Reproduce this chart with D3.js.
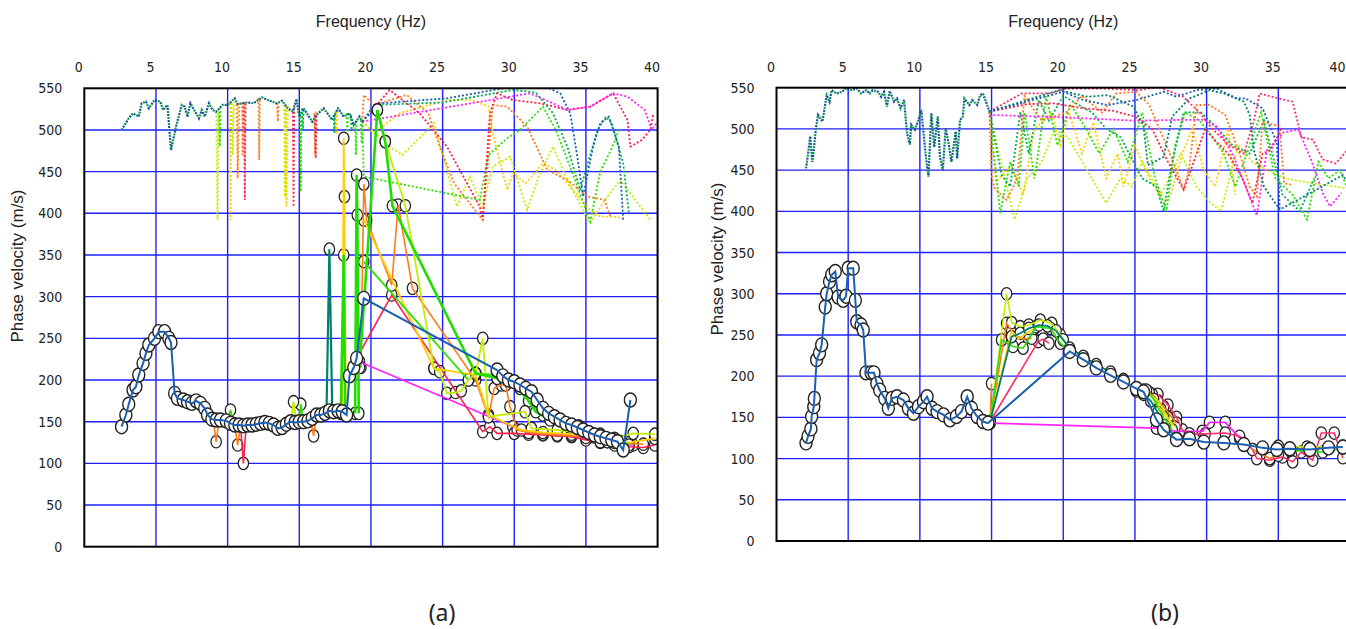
<!DOCTYPE html>
<html>
<head>
<meta charset="utf-8">
<script src="https://cdn.jsdelivr.net/npm/d3@7"></script>
<style>
  body { margin: 0; background: #fff; }
  svg { display: block; }
</style>
</head>
<body>
<svg id="chart" width="1346" height="629"></svg>
<script>
// ---------------- data ----------------
const xTicks = [0, 5, 10, 15, 20, 25, 30, 35, 40];
const yTicks = [0, 50, 100, 150, 200, 250, 300, 350, 400, 450, 500, 550];
const xTitle = "Frequency (Hz)";
const yTitle = "Phase velocity (m/s)";
const captions = ["(a)", "(b)"];

// panel (a) : picked dispersion curves [frequency Hz, phase velocity m/s]
const aMain = [[2.6,144],[2.9,158],[3.1,171],[3.4,188],[3.6,192],[3.8,206],[4.1,220],[4.3,232],[4.5,242],[4.9,250],
  [5.2,258],[5.6,258],[5.9,250],[6.05,245],[6.3,184],[6.5,178],[6.9,176],[7.2,174],[7.5,172],[7.8,175],[8.1,172],
  [8.4,166],[8.6,158],[8.9,153],[9.2,152],[9.5,152],[9.9,151],[10.2,148],[10.5,146],[10.8,146],[11.1,145],[11.4,146],
  [11.7,146],[12.0,147],[12.3,148],[12.6,149],[12.9,148],[13.2,146],[13.5,142],[13.8,143],[14.1,147],[14.4,150],
  [14.7,149],[15.0,150],[15.3,150],[15.6,151],[15.9,154],[16.2,158],[16.5,158],[16.8,160],[17.1,163],[17.4,162],
  [17.7,163],[18.0,162],[18.3,158],[18.5,205],[18.8,215],[19.0,226],[19.5,298],
  [28.8,212],[29.2,205],[29.6,200],[30.0,198],[30.4,194],[30.8,190],[31.2,186],[31.6,176],[32.0,166],[32.4,160],
  [32.8,156],[33.2,152],[33.6,148],[34.0,146],[34.4,143],[34.8,140],[35.2,137],[35.6,134],[36.0,132],[36.4,130],
  [36.8,128],[37.2,126],[37.6,116],[38.1,176]];
const aRed = [[10.9,146],[11.1,100],[11.3,146],null,
  [19.0,226],[21.45,302],[27.8,138],[28.3,144],[28.8,136],[30,136],[31,135],[32,134],[33,133],[34,132],[35,128],
  [36,125],[37,122],[38,120],[39,119],[39.8,122]];
const aOrange = [[9.0,152],[9.2,126],[9.4,152],null,[10.5,146],[10.7,122],[10.9,146],null,[15.8,152],[16.0,133],[16.2,158],null,
  [19.3,215],[19.5,435],[19.7,392],[21.45,314],[21.9,410],[22.9,310],[27.3,200],[28.2,156],[28.6,190],[29.1,194],
  [29.4,194],[29.7,168],[30.2,140],[31,137],[32,135],[33,134],[34,133],[35,131],[36,126],[37,125],[38,124],[39,123]];
const aYellow = [[18.0,160],[18.1,490],[18.15,420],[18.25,160],null,
  [19.5,392],[24.4,214],[27.3,206],[28.2,158],[30.5,140],[32,137],[34,135],[35.5,132],[36.5,126],[38,125],[39.8,130]];
const aYellowGreen = [[14.4,150],[14.6,174],[14.8,150],null,
  [20.45,524],[21.0,486],[22.4,409],[24.4,214],[24.8,210],[25.3,184],[25.9,185],[26.3,187],[26.8,200],[27.3,208],
  [27.8,250],[28.2,156],[30.75,162],[31.2,142],[33,140],[35,136],[37,130],[38.3,136],[39.8,135]];
const aLime = [[18.9,160],[19.0,446],[19.05,398],[19.15,160],null,[17.9,160],[18.1,350],[18.2,160],null,
  [19.2,215],[20.45,524],[21.0,486],[21.5,409],[27.3,208],[28.8,202],[30.4,190],[31.5,162],[32.5,152],[34,142],
  [35.5,135],[37,128],[38,122]];
const aGreen = [[10.0,151],[10.2,164],[10.4,148],null,[15.0,150],[15.1,171],[15.3,150],null,
  [19.5,342],[26.8,200],[27.3,208],[28.8,206],[29.6,200],[31,175],[32,158],[33,152],[34.5,145],[36,135],[37.5,126]];
const aTeal = [[16.9,162],[17.1,357],[17.3,162]];
const aMagenta = [[19.2,222],[29.9,144],[31,137],[33,134],[35,130],[36.5,126],[37.5,122],[38.3,122]];

// panel (a) : spectral maxima (dotted)
const aDotMain = [[2.6,500],[3.1,514],[3.4,520],[3.8,516],[4.0,532],[4.3,534],[4.5,526],[4.9,536],[5.3,534],[5.5,524],
  [5.8,530],[6.05,476],[6.4,504],[6.8,530],[7.0,528],[7.2,516],[7.4,532],[8.0,514],[8.2,524],[8.4,516],[8.7,532],
  [8.95,524],[9.2,522],[9.65,530],[10.0,530],[10.5,538],[10.7,531],[11.35,533],[11.8,532],[12.4,539],[12.8,536],
  [13.4,532],[13.8,535],[14.2,526],[14.55,522],[14.8,537],[15.0,516],[15.3,526],[15.9,510],[16.2,518],[16.7,526],
  [17.3,512],[17.7,526],[18.1,516],[18.5,520],[18.8,506],[19.2,516],[19.4,510]];
const aDotDipYellowGreen = [[9.2,522],[9.3,392],[9.35,522],null,[10.3,532],[10.35,470],[10.45,534],null,[13.95,530],[14.0,420],[14.05,530]];
const aDotDipYellow = [[10.15,532],[10.2,392],[10.25,534],null,[14.05,530],[14.1,408],[14.2,528],null,[17.55,522],[17.6,495],[17.65,524]];
const aDotDipOrange = [[10.65,531],[10.7,442],[10.8,532],null,[12.15,538],[12.2,464],[12.25,538],null,[13.45,532],[13.5,510],[13.55,532],
  null,[11.0,533],[11.05,470],[11.1,533],null,[16.05,520],[16.1,470],[16.15,522]];
const aDotDipRed = [[11.15,533],[11.2,416],[11.25,533],null,[14.55,522],[14.6,408],[14.65,530],null,[16.1,518],[16.15,466],[16.2,520]];
const aDotDipLime = [[9.4,526],[9.45,480],[9.5,526],null,[15.05,520],[15.1,426],[15.15,524],null,[18.3,520],[18.35,490],[18.4,520],
  null,[18.9,508],[18.95,470],[19.0,512],null,[19.3,512],[19.35,484],[19.4,510]];
const aDotDipGreen = [[15.2,526],[15.25,500],[15.3,526],null,[17.4,518],[17.45,496],[17.5,522],null,[18.6,518],[18.65,500],[18.7,516]];
const aDotBlue = [[19.4,510],[20.6,532],[25.3,538],[29.9,552],[32.3,551],[33.2,544],[33.9,520],[34.4,468],[34.8,420],
  [35.5,480],[36.0,508],[36.6,516],[37.3,480],[37.6,392]];
const aDotGreen = [[19.4,510],[20.2,530],[25,533],[29.9,548],[31.5,545],[32.7,520],[33.7,480],[34.6,428],[35.8,500],
  [36.4,516],[36.8,508],[37.6,460],[38.0,400]];
const aDotRed = [[19.4,510],[21.3,548],[23.4,520],[25.3,480],[27.6,408],[27.8,392],[28.3,520],[28.8,544],[29.9,536],
  [31.8,532],[33.7,524],[35.3,528],[36.9,544],[37.9,512],[38.1,480],[38.9,488],[39.5,500],[39.7,520]];
const aDotMagenta = [[19.4,510],[31.1,544],[32.3,535],[33.7,524],[35.3,528],[36.9,544],[37.9,540],[39.1,524],[39.6,500],[40,510]];
const aDotOrange = [[19.4,510],[19.5,542],[20.2,530],[22.5,542],[24.0,520],[24.8,480],[25.8,436],[27.8,392],[28.5,530],
  [29.5,528],[30.9,504],[32.3,452],[33.7,440],[35.1,420],[36.3,416],[36.7,396]];
const aDotYellow = [[19.4,510],[20.2,496],[22,520],[25.3,536],[27,536],[28.2,528],[28.5,496],[29.5,428],[29.9,448],
  [30.8,436],[32.0,460],[32.9,452],[34.1,428],[35.3,404],[36.0,396],[36.9,396],[37.6,394]];
const aDotYellowGreen = [[19.4,510],[21.3,480],[22.2,470],[24.4,508],[26.0,408],[26.9,444],[27.8,408],[28.5,456],
  [29.7,468],[30.9,404],[31.7,444],[32.7,480],[33.7,440],[35.3,388],[36.4,418],[37.4,440],[39.5,392]];
const aDotLime = [[19.4,510],[19.5,444],[27.6,416],[28.2,470],[29.5,490],[30.4,500],[32.0,528],[32.9,500],[33.8,460],
  [35.3,390],[36.0,450],[36.8,478],[37.3,500]];

// panel (b) : picked dispersion curves
const bMain = [[2.06,119],[2.2,127],[2.4,136],[2.45,151],[2.6,163],[2.64,173],[2.8,220],[3.0,228],[3.15,238],[3.4,284],
  [3.5,300],[3.7,315],[3.85,323],[4.1,327],[4.3,296],[4.65,292],[4.85,297],[5.0,331],[5.35,331],[5.5,292],[5.6,266],
  [5.9,262],[6.05,256],[6.24,204],[6.6,204],[6.8,204],[7.0,191],[7.2,183],[7.55,173],[7.8,161],[8.05,173],[8.4,175],
  [8.85,171],[9.2,161],[9.55,155],[9.9,163],[10.25,169],[10.5,175],[10.85,161],[11.2,157],[11.65,153],[12.1,147],
  [12.55,151],[12.9,157],[13.3,175],[13.6,161],[14.0,151],[14.4,145],[14.75,143],
  [20.45,230],[21.4,220],[22.3,210],[23.3,201],[24.2,193],[25.1,185],[25.6,181],[26.5,147],[27.0,135],[27.9,123],
  [28.8,124],[29.8,120],[31.2,119],[32.6,117],[33.9,113],[34.9,111],[35.8,112],[37.2,111],[38.5,113],[39.5,114]];
const bTeal = [[14.9,145],[16.4,248],[17.0,252],[17.6,258],[18.3,262],[18.9,261],[19.5,255],[20.0,244],[20.45,234],
  [21.4,224],[22.3,214],[23.3,205],[24.2,196],[25.1,182],[25.6,178],[26.1,170],[26.6,156],[27.1,140],[27.9,125]];
const bGreen = [[14.9,145],[15.7,244],[16.5,236],[17.2,234],[18.1,260],[19.1,258],[19.8,240],[20.45,230],null,
  [25.8,183],[26.3,172],[27.0,150],[27.6,135],null,[33.9,113],[35.8,110],[38.1,108],[39.5,113]];
const bYellowGreen = [[14.9,145],[16.05,300],[16.4,265],[17.0,260],[17.6,262],[18.4,268],[19.2,264],[19.8,250],[20.45,232],null,
  [25.6,183],[26.6,170],[27.3,150],[27.8,138],null,[35.0,115],[37,114],[39.5,115]];
const bYellow = [[14.9,145],[16.4,255],[16.9,245],[17.4,252],[18.0,258],null,[26.0,180],[26.8,160],[27.6,140]];
const bOrange = [[15.0,191],[14.9,145],[16.05,264],[16.6,250],[17.2,245],[17.8,246],null,[26.2,178],[27.0,163],[27.9,143],
  null,[33.2,111],[34.4,100],[35.0,104]];
const bRed = [[14.9,145],[18.25,242],[18.6,245],[19.0,240],null,[26.6,178],[27.3,165],[27.9,150],[28.3,135],[28.8,130],
  [29.9,130],[31.3,131],[32.3,127],[33.2,111],[33.5,100],[34.4,98],[35.3,102],[36.0,96],[36.6,108],[37.4,98],
  [38.0,131],[38.9,131],[39.5,101]];
const bMagenta = [[14.9,143],[26.5,137],[27.9,133],[29.7,133],[30.2,144],[31.3,144],[32.3,125]];

// panel (b) : spectral maxima (dotted)
const bDotMain = [[2.06,452],[2.2,470],[2.35,491],[2.5,460],[2.6,474],[2.75,501],[2.9,517],[3.2,509],[3.3,519],[3.5,541],
  [3.7,533],[3.85,547],[4.2,543],[4.55,545],[4.85,549],[5.2,547],[5.6,549],[5.9,543],[6.25,547],[6.5,543],[6.7,547],
  [7.1,545],[7.3,539],[7.5,545],[7.7,527],[7.9,546],[8.2,533],[8.4,537],[8.65,525],[8.9,535],[9.1,495],[9.3,481],
  [9.4,505],[9.65,499],[9.9,511],[10.1,523],[10.35,478],[10.5,454],[10.6,442],[10.8,519],[11.0,478],[11.25,515],
  [11.4,466],[11.6,450],[11.8,501],[12.0,483],[12.2,460],[12.5,497],[12.6,464],[12.8,511],[13.0,515],[13.1,537],
  [13.45,529],[13.65,535],[14.0,529],[14.2,541],[14.4,543],[14.65,531],[14.85,521]];
const bDotBlue = [[14.85,521],[20.0,545],[21.4,535],[23.1,529],[25.1,535],[27.0,545],[27.9,539],[29.3,547],[30.7,549],
  [32.1,537],[32.7,537],[33.9,525],[34.9,483],[35.1,402]];
const bDotTeal = [[14.85,521],[19.7,547],[21.7,539],[23.1,541],[24.9,527],[25.6,503],[25.9,456],[27.0,466],[27.6,515],
  [28.8,537],[30.2,547],[31.2,543],[32.6,533],[33.0,517],[33.3,474],[34.0,430],[35.1,402],[37.0,420],[39.5,444],[40,430]];
const bDotPink = [[14.85,521],[17.1,543],[19.1,543],[20.2,549],[22.5,549],[25.3,547],[26.6,551],[27.5,545],[28.3,540],
  [29.5,520],[30.4,500],[31.6,480],[32.6,470],[33.3,510],[33.7,543],[35.0,537],[36.0,533],[36.6,490],[37.4,487],
  [38.1,463],[39.0,458],[39.8,474]];
const bDotRed = [[14.85,521],[17.5,530],[19.3,531],[21.4,525],[23.5,522],[25.0,515],[26.2,500],[27.3,460],[28.4,426],
  [29.3,470],[29.9,500],[30.6,486],[31.5,470],[32.5,440],[33.2,410],[33.9,470],[34.5,475],[35.2,500]];
const bDotMagenta = [[14.85,517],[20,514],[25,510],[28.4,511],[29.8,511],[30.7,503],[31.9,466],[33.5,395],[34.2,474],
  [35.4,496],[36.4,499],[37.3,462],[38.1,422],[38.6,406],[39.4,422]];
const bDotOrange = [[14.85,521],[15.0,444],[15.2,428],[16.05,414],[16.8,440],[17.3,540],[18.5,510],[20.2,520],[21.3,540],
  [22.7,520],[23.7,543],[25.1,545],[26.0,529],[27.0,488],[27.9,450],[28.4,426],[28.8,455],[29.3,529],[30.2,529],
  [31.3,517],[32.3,470],[33.0,430],[33.5,418],[33.9,509],[35.1,503],[35.4,434],[36.0,432]];
const bDotYellow = [[14.85,521],[15.3,436],[16.4,455],[17.2,420],[18.0,500],[19.2,520],[19.8,480],[20.4,520],[21.3,470],
  [22.1,508],[23.0,440],[23.8,470],[24.2,430],[25.0,480],[26.0,440],[27.0,410],[27.5,420],[28.3,470],[29.0,500],
  [29.8,450],[30.6,430],[31.5,500],[32.0,420]];
const bDotYellowGreen = [[14.85,521],[16.6,390],[17.5,440],[18.5,460],[19.4,500],[20.3,490],[21.0,470],[22.0,440],
  [23.0,410],[24.0,440],[24.8,430],[25.5,460],[26.8,420],[28.2,470],[29.3,430],[30.3,410],[31.0,400],[32.2,480],
  [33.2,460],[34.2,450],[35.5,440],[37.0,435],[39.8,428]];
const bDotLime = [[14.85,521],[15.6,398],[16.3,460],[16.9,430],[17.3,520],[18.0,440],[18.8,540],[19.6,480],[20.5,530],
  [21.6,500],[22.5,470],[23.5,500],[24.5,460],[25.5,520],[26.4,440],[27.2,400],[27.8,480],[28.5,520],[29.5,510],
  [30.4,490],[31.2,470],[32.0,430],[33.0,480],[33.8,520],[34.8,440],[36.0,420],[37.0,390],[37.8,460],[38.5,440],
  [39.3,450],[40,420]];
const bDotGreen = [[14.85,521],[15.7,444],[16.3,430],[17.0,520],[17.6,470],[18.3,535],[19.0,510],[20.0,540],[21.0,530],
  [22.0,520],[23.0,500],[24.0,490],[25.5,440],[26.5,430],[27.0,400],[27.6,460],[28.4,520],[29.6,520],[30.8,500],
  [31.8,480],[33.0,470],[34.0,510],[35.3,420],[36.5,400],[37.5,440]];

// ---------------- styles ----------------
const col = {
  red: '#ff1f4b', pink: '#ff2d6e', orange: '#ff7a1a', yellow: '#ffcf00', ygreen: '#c2ef00',
  lime: '#2ee000', green: '#00b050', teal: '#00806a', blue: '#1a5fb0', magenta: '#ff22ff'
};

const panels = [
  { key: 'a', left: 84.3, right: 657.6, top: 88.3, bottom: 546.7, caption: captions[0], capX: 442,
    yTitleX: 17, yTitleY: 266,
    main: aMain,
    solid: [[aTeal, col.teal, 2.2], [aMagenta, col.magenta, 1.6], [aRed, col.red, 1.6], [aOrange, col.orange, 1.6],
            [aYellow, col.yellow, 1.8], [aGreen, col.lime, 1.8], [aYellowGreen, col.ygreen, 1.8], [aLime, '#22dd00', 2.6]],
    dotted: [[aDotDipYellowGreen, col.ygreen], [aDotDipYellow, col.yellow], [aDotDipOrange, col.orange],
             [aDotDipRed, col.red], [aDotDipLime, col.lime], [aDotDipGreen, col.green],
             [aDotYellow, col.yellow], [aDotYellowGreen, col.ygreen], [aDotLime, col.lime], [aDotOrange, col.orange],
             [aDotRed, col.red], [aDotMagenta, col.magenta], [aDotGreen, col.green], [aDotBlue, col.blue]],
    dotMain: aDotMain },
  { key: 'b', left: 776.5, right: 1350, top: 87.7, bottom: 541, caption: captions[1], capX: 1165,
    yTitleX: 717, yTitleY: 259,
    main: bMain,
    solid: [[bMagenta, col.magenta, 1.8], [bRed, col.pink, 1.6], [bOrange, col.orange, 1.6], [bYellow, col.yellow, 1.6],
            [bYellowGreen, col.ygreen, 1.6], [bGreen, col.lime, 1.6], [bTeal, col.teal, 1.8]],
    dotted: [[bDotYellow, col.yellow], [bDotYellowGreen, col.ygreen], [bDotLime, col.lime], [bDotGreen, col.green],
             [bDotOrange, col.orange], [bDotRed, col.red], [bDotMagenta, col.magenta], [bDotPink, col.pink],
             [bDotTeal, col.teal], [bDotBlue, col.blue]],
    dotMain: bDotMain }
];

const tickFont = "'Liberation Sans Narrow', 'Arial Narrow', 'DejaVu Sans Condensed', sans-serif";
const titleFont = "'Liberation Sans', Arial, sans-serif";
const W = 1346;

const svg = d3.select('#chart');
const defs = svg.append('defs');

panels.forEach(p => {
  const x = d3.scaleLinear().domain([0, 40]).range([p.left, p.right]);
  const y = d3.scaleLinear().domain([0, 550]).range([p.bottom, p.top]);
  const line = d3.line().defined(d => d !== null).x(d => x(d[0])).y(d => y(d[1]));

  defs.append('clipPath').attr('id', 'clip-' + p.key)
    .append('rect')
    .attr('x', p.left).attr('y', p.top)
    .attr('width', p.right - p.left).attr('height', p.bottom - p.top);

  const g = svg.append('g');

  // grid
  const grid = g.append('g').attr('stroke', '#1f1fff').attr('stroke-width', 1.4);
  grid.selectAll('line.v').data(xTicks.filter(t => t > 0 && t < 40)).join('line')
    .attr('class', 'v')
    .attr('x1', d => x(d)).attr('x2', d => x(d))
    .attr('y1', p.top).attr('y2', p.bottom);
  grid.selectAll('line.h').data(yTicks.filter(t => t > 0 && t < 550)).join('line')
    .attr('class', 'h')
    .attr('x1', p.left).attr('x2', p.right)
    .attr('y1', d => y(d)).attr('y2', d => y(d));

  const plot = g.append('g').attr('clip-path', `url(#clip-${p.key})`);

  // dotted spectral maxima
  p.dotted.forEach(([data, c]) => {
    plot.append('path').datum(data)
      .attr('d', line).attr('fill', 'none')
      .attr('stroke', c).attr('stroke-width', 1.8)
      .attr('stroke-dasharray', '2,2');
  });
  // two-tone dotted main maxima (green and blue dots interleaved)
  plot.append('path').datum(p.dotMain)
    .attr('d', line).attr('fill', 'none')
    .attr('stroke', '#0a9a50').attr('stroke-width', 2.2)
    .attr('stroke-dasharray', '2,4');
  plot.append('path').datum(p.dotMain)
    .attr('d', line).attr('fill', 'none')
    .attr('stroke', '#1a4fa0').attr('stroke-width', 2.2)
    .attr('stroke-dasharray', '2,4').attr('stroke-dashoffset', 3);

  // picked curves: circles then lines
  p.solid.forEach(([data]) => {
    plot.append('g').selectAll('ellipse').data(data.filter(d => d !== null)).join('ellipse')
      .attr('cx', d => x(d[0])).attr('cy', d => y(d[1]))
      .attr('rx', 5.2).attr('ry', 6.2)
      .attr('fill', '#fff').attr('stroke', '#222').attr('stroke-width', 1.3);
  });
  p.solid.forEach(([data, c, w]) => {
    plot.append('path').datum(data)
      .attr('d', line).attr('fill', 'none')
      .attr('stroke', c).attr('stroke-width', w);
  });
  plot.append('g').selectAll('ellipse').data(p.main).join('ellipse')
    .attr('cx', d => x(d[0])).attr('cy', d => y(d[1]))
    .attr('rx', 6).attr('ry', 7)
    .attr('fill', '#fff').attr('stroke', '#222').attr('stroke-width', 1.4);
  plot.append('path').datum(p.main)
    .attr('d', line).attr('fill', 'none')
    .attr('stroke', col.blue).attr('stroke-width', 2);

  // frame
  g.append('rect')
    .attr('x', p.left).attr('y', p.top)
    .attr('width', p.right - p.left).attr('height', p.bottom - p.top)
    .attr('fill', 'none').attr('stroke', '#000').attr('stroke-width', 2);

  // axes (labels only, sitting a little left of their grid lines like the original)
  const xAxis = d3.axisTop(x).tickValues(xTicks).tickSize(0).tickPadding(0);
  g.append('g')
    .attr('transform', `translate(-6,${p.top - 16})`)
    .call(xAxis)
    .call(a => a.select('.domain').remove())
    .attr('font-family', tickFont).attr('font-size', 14)
    .selectAll('text').attr('fill', '#222')
    .each(function (d) {
      // keep the last label inside the page when the panel runs off the edge
      if (x(d) - 6 + 8 > W) d3.select(this).attr('text-anchor', 'end').attr('x', W - 1 - (x(d) - 6));
    });

  const yAxis = d3.axisLeft(y).tickValues(yTicks).tickSize(0).tickPadding(0);
  g.append('g')
    .attr('transform', `translate(${p.left - 22},0)`)
    .call(yAxis)
    .call(a => a.select('.domain').remove())
    .attr('font-family', tickFont).attr('font-size', 14)
    .selectAll('text').attr('fill', '#222');

  // titles
  g.append('text')
    .attr('x', x(20)).attr('y', 27)
    .attr('text-anchor', 'middle')
    .attr('font-family', titleFont).attr('font-size', 16).attr('fill', '#222')
    .text(xTitle);
  g.append('text')
    .attr('transform', `translate(${p.yTitleX + 6},${p.yTitleY}) rotate(-90)`)
    .attr('text-anchor', 'middle')
    .attr('font-family', titleFont).attr('font-size', 17).attr('fill', '#222')
    .text(yTitle);
  g.append('text')
    .attr('x', p.capX).attr('y', 621)
    .attr('text-anchor', 'middle')
    .attr('font-family', "'Noto Sans', 'DejaVu Sans', sans-serif").attr('font-size', 23).attr('fill', '#222')
    .text(p.caption);
});
</script>
</body>
</html>
